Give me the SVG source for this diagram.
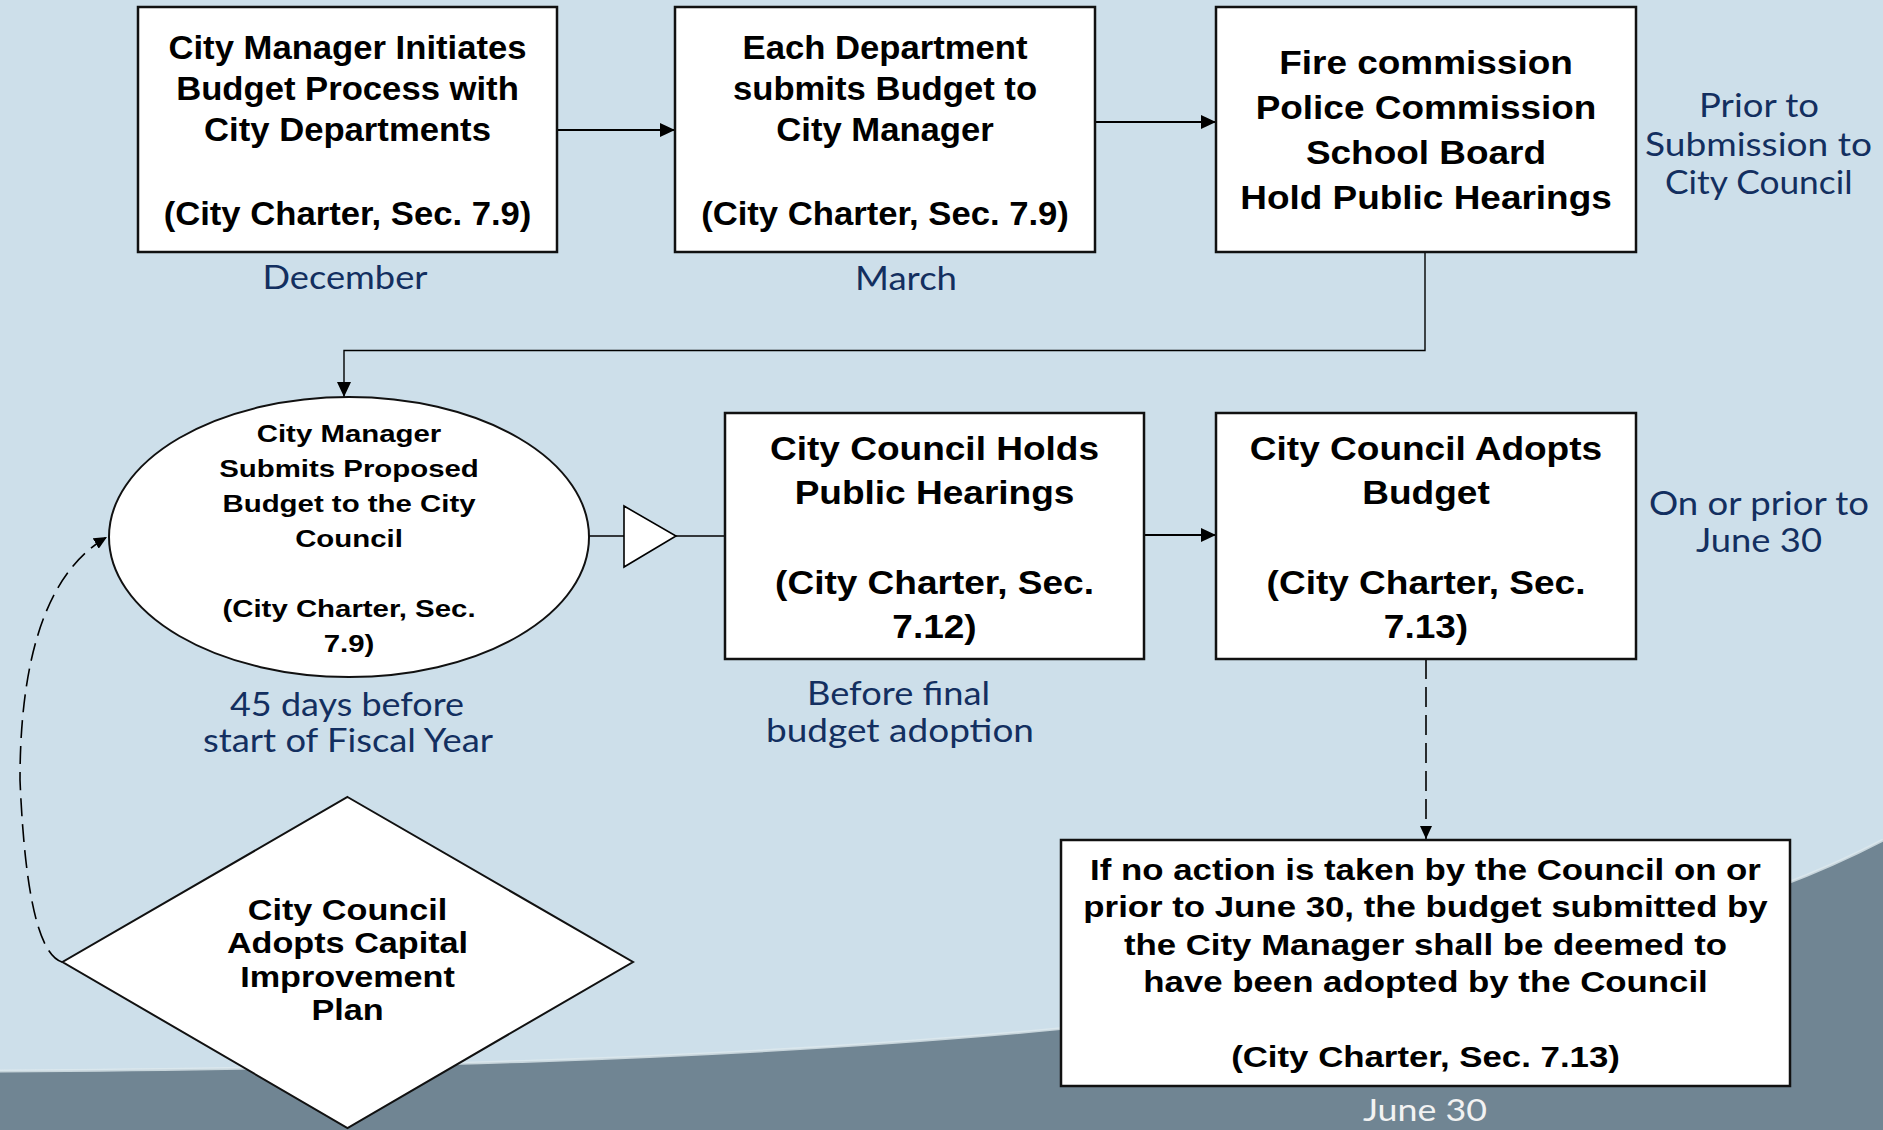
<svg xmlns="http://www.w3.org/2000/svg" width="1883" height="1130" viewBox="0 0 1883 1130">
<defs>
<style>
.box{fill:#fff;stroke:#111;stroke-width:2.5}
.shape{fill:#fff;stroke:#111;stroke-width:2}
.t{font-family:"Liberation Sans",Arial,sans-serif;font-weight:bold;fill:#000;text-anchor:middle}
.lbl{font-family:Lato,"Open Sans",sans-serif;font-size:32px;fill:#132f60}
.c{fill:none;stroke:#000;stroke-width:2}
.thin{fill:none;stroke:#000;stroke-width:1.4}
.dash{fill:none;stroke:#000;stroke-width:1.6;stroke-dasharray:20 8}
</style>
<marker id="ah" viewBox="0 0 15 14" refX="15" refY="7" markerWidth="15" markerHeight="14" markerUnits="userSpaceOnUse" orient="auto">
<path d="M0,0 L15,7 L0,14 z" fill="#000"/>
</marker>
<marker id="ahs" viewBox="0 0 13 12" refX="13" refY="6" markerWidth="13" markerHeight="12" markerUnits="userSpaceOnUse" orient="auto">
<path d="M0,0 L13,6 L0,12 z" fill="#000"/>
</marker>
</defs>

<g id="background">
<rect x="0" y="0" width="1883" height="1130" fill="#cddfea"/>
<path d="M0 1071 C 700 1066, 1500 1040, 1883 840 L1883 1130 L0 1130 Z" fill="#708593"/>
<path d="M0 1071 C 700 1066, 1500 1040, 1883 840" fill="none" stroke="#dde8ee" stroke-width="3" opacity="0.8"/>
</g>

<g id="connectors">
<line class="c" x1="557" y1="130" x2="675" y2="130" marker-end="url(#ah)"/>
<line class="c" x1="1095" y1="122" x2="1216" y2="122" marker-end="url(#ah)"/>
<polyline class="thin" points="1425,252 1425,350.5 344,350.5 344,397" marker-end="url(#ah)"/>
<line class="thin" x1="589" y1="536" x2="624" y2="536"/>
<polygon points="624,506 676,536 624,567" fill="#fff" stroke="#000" stroke-width="1.6"/>
<line class="thin" x1="676" y1="536" x2="725" y2="536"/>
<line class="c" x1="1144" y1="535" x2="1216" y2="535" marker-end="url(#ah)"/>
<line class="dash" x1="1426" y1="659" x2="1426" y2="839" marker-end="url(#ahs)"/>
<path class="dash" style="stroke-dasharray:18 8" d="M 62 962 C 40 955, 25 900, 20 780 C 20 650, 50 570, 107 537" marker-end="url(#ahs)"/>
</g>

<g id="n1">
<rect class="box" x="138" y="7" width="419" height="245"/>
<text class="t" font-size="33" transform="translate(347.5 0) scale(1.05 1)"><tspan x="0" y="59.5">City Manager Initiates</tspan><tspan x="0" y="100.5">Budget Process with</tspan><tspan x="0" y="141">City Departments</tspan><tspan x="0" y="225">(City Charter, Sec. 7.9)</tspan></text>
</g>

<g id="n2">
<rect class="box" x="675" y="7" width="420" height="245"/>
<text class="t" font-size="33" transform="translate(885 0) scale(1.05 1)"><tspan x="0" y="59.5">Each Department</tspan><tspan x="0" y="100.5">submits Budget to</tspan><tspan x="0" y="141">City Manager</tspan><tspan x="0" y="225">(City Charter, Sec. 7.9)</tspan></text>
</g>

<g id="n3">
<rect class="box" x="1216" y="7" width="420" height="245"/>
<text class="t" font-size="33" transform="translate(1426 0) scale(1.12 1)"><tspan x="0" y="74.5">Fire commission</tspan><tspan x="0" y="119.5">Police Commission</tspan><tspan x="0" y="164.5">School Board</tspan><tspan x="0" y="209.5">Hold Public Hearings</tspan></text>
</g>

<g id="n4">
<ellipse class="shape" cx="349" cy="537" rx="240" ry="140"/>
<text class="t" font-size="24.5" transform="translate(349 0) scale(1.2 1)"><tspan x="0" y="442">City Manager</tspan><tspan x="0" y="477">Submits Proposed</tspan><tspan x="0" y="512">Budget to the City</tspan><tspan x="0" y="547">Council</tspan><tspan x="0" y="617">(City Charter, Sec.</tspan><tspan x="0" y="652">7.9)</tspan></text>
</g>

<g id="n5">
<rect class="box" x="725" y="413" width="419" height="246"/>
<text class="t" font-size="33.5" transform="translate(934.5 0) scale(1.105 1)"><tspan x="0" y="460">City Council Holds</tspan><tspan x="0" y="504">Public Hearings</tspan><tspan x="0" y="594">(City Charter, Sec.</tspan><tspan x="0" y="638">7.12)</tspan></text>
</g>

<g id="n6">
<rect class="box" x="1216" y="413" width="420" height="246"/>
<text class="t" font-size="33.5" transform="translate(1426 0) scale(1.105 1)"><tspan x="0" y="460">City Council Adopts</tspan><tspan x="0" y="504">Budget</tspan><tspan x="0" y="594">(City Charter, Sec.</tspan><tspan x="0" y="638">7.13)</tspan></text>
</g>

<g id="n7">
<rect class="box" x="1061" y="840" width="729" height="246"/>
<text class="t" font-size="29.5" transform="translate(1425.5 0) scale(1.18 1)"><tspan x="0" y="880">If no action is taken by the Council on or</tspan><tspan x="0" y="917">prior to June 30, the budget submitted by</tspan><tspan x="0" y="955">the City Manager shall be deemed to</tspan><tspan x="0" y="992">have been adopted by the Council</tspan><tspan x="0" y="1067">(City Charter, Sec. 7.13)</tspan></text>
</g>

<g id="n8">
<polygon class="shape" points="347.5,797 633,962 347.5,1128 62.5,962"/>
<text class="t" font-size="30" transform="translate(347.5 0) scale(1.14 1)"><tspan x="0" y="920">City Council</tspan><tspan x="0" y="953.5">Adopts Capital</tspan><tspan x="0" y="987">Improvement</tspan><tspan x="0" y="1020.5">Plan</tspan></text>
</g>

<g id="labels">
<text class="lbl" x="262.5" y="289" textLength="165" lengthAdjust="spacingAndGlyphs">December</text>
<text class="lbl" x="855" y="290" textLength="102" lengthAdjust="spacingAndGlyphs">March</text>
<text class="lbl" x="1699" y="117" textLength="120" lengthAdjust="spacingAndGlyphs">Prior to</text>
<text class="lbl" x="1645" y="156" textLength="227" lengthAdjust="spacingAndGlyphs">Submission to</text>
<text class="lbl" x="1665" y="193.5" textLength="187.5" lengthAdjust="spacingAndGlyphs">City Council</text>
<text class="lbl" x="1649" y="515" textLength="220" lengthAdjust="spacingAndGlyphs">On or prior to</text>
<text class="lbl" x="1696" y="551.5" textLength="126" lengthAdjust="spacingAndGlyphs">June 30</text>
<text class="lbl" x="230" y="716" textLength="234" lengthAdjust="spacingAndGlyphs">45 days before</text>
<text class="lbl" x="203" y="752" textLength="290" lengthAdjust="spacingAndGlyphs">start of Fiscal Year</text>
<text class="lbl" x="807" y="705" textLength="183" lengthAdjust="spacingAndGlyphs">Before final</text>
<text class="lbl" x="766" y="742" textLength="268" lengthAdjust="spacingAndGlyphs">budget adoption</text>
<text class="lbl" x="1363" y="1121" textLength="124" lengthAdjust="spacingAndGlyphs" style="fill:#f2f2f2;font-size:30px">June 30</text>
</g>
</svg>
